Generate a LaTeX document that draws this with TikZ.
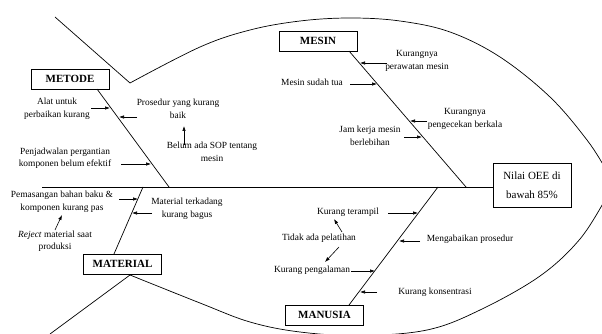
\documentclass[tikz,border=0pt]{standalone}
\usepackage{fontspec}
\setmainfont{Liberation Serif}
\usetikzlibrary{arrows.meta}
\tikzset{
  lbl/.style={font=\fontsize{9.4}{12.5}\selectfont, align=center, inner sep=0pt},
  catbox/.style={draw, line width=0.8pt, minimum width=78pt, minimum height=20pt, inner sep=0pt, font=\fontsize{11}{13}\selectfont\bfseries},
  effbox/.style={draw, line width=0.8pt, minimum width=78pt, minimum height=44pt, inner sep=0pt, align=center, font=\fontsize{11}{19}\selectfont},
  bone/.style={line width=0.7pt},
  fish/.style={line width=0.7pt},
  arr/.style={-{Latex[length=5pt,width=3.5pt]}, line width=0.6pt},
}
\begin{document}
\begin{tikzpicture}[x=1pt,y=-1pt]
\useasboundingbox (0,0) rectangle (602,334);
\begin{scope}
\clip (0,0) rectangle (602,334);
% fish outline
\coordinate (tailTop) at (55,17);
\coordinate (tailJoinTop) at (130,83);
\coordinate (tailBot) at (50,334);
\coordinate (tailJoinBot) at (130,275);
\draw[fish] (tailTop) -- (tailJoinTop);
\draw[fish] (tailBot) -- (tailJoinBot);
\draw[fish] plot[smooth, tension=0.6] coordinates {(130,83) (200,47) (250,30) (300,21) (350,18) (400,21) (450,32) (500,57) (550,97) (587,140) (605,168)};
\draw[fish] plot[smooth, tension=0.6] coordinates {(130,275) (200,303) (250,322) (300,332) (360,335.5) (427,330) (480,310) (540,276) (580,239) (606,198)};
\end{scope}

% head / effect
\node[effbox] (eff) at (532,185) {Nilai OEE di\\bawah 85\%};
\coordinate (spineStart) at (42,187);
\draw[bone] (spineStart) -- (eff.west |- spineStart);

% category boxes
\node[catbox] (metode) at (70,79) {METODE};
\node[catbox] (mesin) at (318,41) {MESIN};
\node[catbox] (material) at (122.5,264) {MATERIAL};
\node[catbox] (manusia) at (324.5,315) {MANUSIA};

% bones
\coordinate (metA) at (97,89);   \coordinate (metB) at (169,187);
\coordinate (mesA) at (349,51);  \coordinate (mesB) at (466,187);
\coordinate (matA) at (114,254); \coordinate (matB) at (143,187);
\coordinate (manA) at (349,305); \coordinate (manB) at (438,187);
\draw[bone] (metA) -- (metB);
\draw[bone] (mesA) -- (mesB);
\draw[bone] (matA) -- (matB);
\draw[bone] (manA) -- (manB);

% METODE causes
\node[lbl] (alat) at (57,109) {Alat untuk\\perbaikan kurang};
\node[lbl] (pros) at (178,109) {Prosedur yang kurang\\baik};
\node[lbl] (sop) at (212,152) {Belum ada SOP tentang\\mesin};
\node[lbl] (jadwal) at (65,158) {Penjadwalan pergantian\\komponen belum efektif};
\coordinate (a1s) at (91,108);  \coordinate (a1e) at (110,108);
\coordinate (a2s) at (137,117); \coordinate (a2e) at (119,117);
\coordinate (a3s) at (184,145); \coordinate (a3e) at (184,126);
\coordinate (a4s) at (121,164); \coordinate (a4e) at (151,164);
\draw[arr] (a1s) -- (a1e);
\draw[arr] (a2s) -- (a2e);
\draw[arr] (a3s) -- (a3e);
\draw[arr] (a4s) -- (a4e);

% MESIN causes
\node[lbl] (rawat) at (417,61) {Kurangnya\\perawatan mesin};
\node[lbl] (tua) at (312,82) {Mesin sudah tua};
\node[lbl] (cek) at (465,119) {Kurangnya\\pengecekan berkala};
\node[lbl] (jam) at (370,136) {Jam kerja mesin\\berlebihan};
\coordinate (b1s) at (387,63);  \coordinate (b1e) at (360,63);
\coordinate (b2s) at (350,84);  \coordinate (b2e) at (377,84);
\coordinate (b3s) at (427,121); \coordinate (b3e) at (410,121);
\coordinate (b4s) at (404,137); \coordinate (b4e) at (422,137);
\draw[arr] (b1s) -- (b1e);
\draw[arr] (b2s) -- (b2e);
\draw[arr] (b3s) -- (b3e);
\draw[arr] (b4s) -- (b4e);

% MATERIAL causes
\node[lbl] (pasang) at (62,202) {Pemasangan bahan baku \&\\komponen kurang pas};
\node[lbl] (terkadang) at (187,209) {Material terkadang\\kurang bagus};
\node[lbl] (reject) at (55,241) {\textit{Reject} material saat\\produksi};
\coordinate (c1s) at (119,199); \coordinate (c1e) at (138,199);
\coordinate (c2s) at (152,213); \coordinate (c2e) at (132,213);
\coordinate (c3s) at (55,230);  \coordinate (c3e) at (62,215);
\draw[arr] (c1s) -- (c1e);
\draw[arr] (c2s) -- (c2e);
\draw[arr] (c3s) -- (c3e);

% MANUSIA causes
\node[lbl] (terampil) at (348,212) {Kurang terampil};
\node[lbl] (latih) at (319,238) {Tidak ada pelatihan};
\node[lbl] (alaman) at (312,270) {Kurang pengalaman};
\node[lbl] (abai) at (470,239) {Mengabaikan prosedur};
\node[lbl] (konsen) at (435,292) {Kurang konsentrasi};
\coordinate (d1s) at (388,213); \coordinate (d1e) at (418,213);
\coordinate (d2s) at (342,232); \coordinate (d2e) at (334,219);
\coordinate (d3s) at (339,247); \coordinate (d3e) at (325,262);
\coordinate (d4s) at (351,271); \coordinate (d4e) at (375,271);
\coordinate (d5s) at (420,241); \coordinate (d5e) at (399,241);
\coordinate (d6s) at (377,292); \coordinate (d6e) at (360,292);
\draw[arr] (d1s) -- (d1e);
\draw[arr] (d2s) -- (d2e);
\draw[arr] (d3s) -- (d3e);
\draw[arr] (d4s) -- (d4e);
\draw[arr] (d5s) -- (d5e);
\draw[arr] (d6s) -- (d6e);
\end{tikzpicture}
\end{document}
